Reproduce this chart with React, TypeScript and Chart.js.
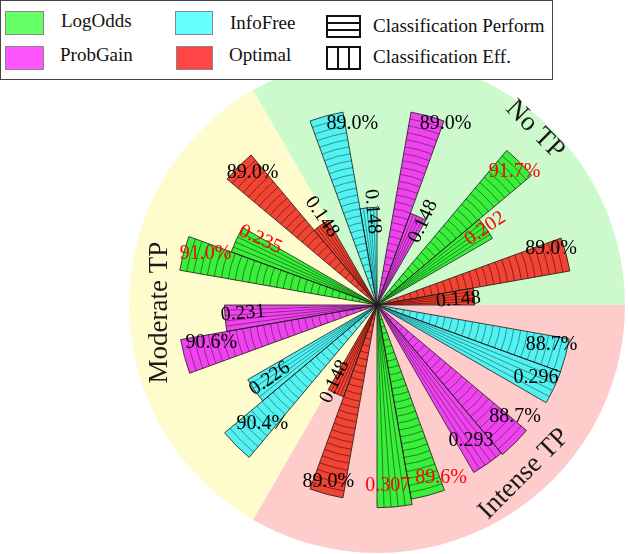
import React, { useEffect, useRef } from "react";
import { Chart, registerables } from "chart.js";

Chart.register(...registerables);

// ---------- data ----------
const groups = ["No TP", "Intense TP", "Moderate TP"];
const methods = ["InfoFree", "ProbGain", "LogOdds", "Optimal"];
// Classification performance (%), in the order of `methods`
const perfNoTP = [89.0, 89.0, 91.7, 89.0];
const perfIntense = [88.7, 88.7, 89.6, 89.0];
const perfModerate = [90.4, 90.6, 91.0, 89.0];
// Classification efficiency, in the order of `methods`
const effNoTP = [0.148, 0.148, 0.202, 0.148];
const effIntense = [0.296, 0.293, 0.307, 0.148];
const effModerate = [0.226, 0.231, 0.235, 0.148];

const perfGroups = [perfNoTP, perfIntense, perfModerate];
const effGroups = [effNoTP, effIntense, effModerate];

// ---------- scale conventions ----------
const PERF_DIV = 100; // performance plotted as a fraction
const EFF_MUL = 3; // efficiency plotted x3 to share the radial axis
const R_MAX = 1.127;
const SLOT_DEG = 10;
const START_DEG = -30;

// ---------- label nudges (px, relative to each bar's tip) ----------
// per group, per method: [perfDx, perfDy, effDx, effDy]
const labelNudgeNoTP = [[26, 8, 4, 4], [18, 8, 5, 5], [-5, 9, -1, 0], [-15, -6, -16, 3]];
const labelNudgeIntense = [[-14, -11, -18, -10], [0, -26, -17, -23], [13, -18, -7, -21], [2, -12, -1, -12]];
const labelNudgeModerate = [[26, -22, 15, -12], [27, -14, 18, -5], [22, 1, 24, 0], [14, 6, 1, -8]];
const labelNudges = [labelNudgeNoTP, labelNudgeIntense, labelNudgeModerate];

type Slot = { kind: "gap" | "perf" | "eff"; g: number; m: number; value: number; r: number };
const slots: Slot[] = [];
groups.forEach((_, g) => {
  methods.forEach((_, m) => {
    slots.push({ kind: "gap", g, m, value: 0, r: 0 });
    slots.push({ kind: "perf", g, m, value: perfGroups[g][m], r: perfGroups[g][m] / PERF_DIV });
    slots.push({ kind: "eff", g, m, value: effGroups[g][m], r: effGroups[g][m] * EFF_MUL });
  });
});

// ---------- styles ----------
const fillColors: Record<string, string> = {
  InfoFree: "#55f0f0",
  ProbGain: "#ee44ee",
  LogOdds: "#3cee3c",
  Optimal: "#f04535",
};
const hatchColors: Record<string, string> = {
  InfoFree: "#239a9a",
  ProbGain: "#972597",
  LogOdds: "#188a18",
  Optimal: "#921e14",
};
const legendColors: Record<string, string> = {
  LogOdds: "#66ff66",
  ProbGain: "#ff55ff",
  InfoFree: "#66ffff",
  Optimal: "#ff4646",
};
const sectorColors = ["#ccfacc", "#ffcccc", "#fefbcc"];
const groupLabelStyle = [
  { angle: 42, dist: 236, rot: 45 },
  { angle: 139, dist: 224, rot: -45 },
  { angle: 268, dist: 217, rot: -90 },
];
const SERIF = "'Liberation Serif', 'Times New Roman', serif";

const overlayPlugin = {
  id: "overlay",
  afterDatasetsDraw(chart: any) {
    const ctx: CanvasRenderingContext2D = chart.ctx;
    const meta = chart.getDatasetMeta(0);
    const els: any[] = meta.data;
    // hatching + borders
    els.forEach((el, i) => {
      const s = slots[i];
      if (s.kind === "gap") return;
      const { x, y, startAngle, endAngle, outerRadius } = el.getProps(
        ["x", "y", "startAngle", "endAngle", "outerRadius"],
        true
      );
      ctx.save();
      ctx.beginPath();
      ctx.moveTo(x, y);
      ctx.arc(x, y, outerRadius, startAngle, endAngle);
      ctx.closePath();
      ctx.clip();
      ctx.strokeStyle = hatchColors[methods[s.m]];
      ctx.lineWidth = 1;
      if (s.kind === "perf") {
        for (let r = outerRadius - 7; r > 3; r -= 7) {
          ctx.beginPath();
          ctx.arc(x, y, r, startAngle - 0.05, endAngle + 0.05);
          ctx.stroke();
        }
      } else {
        const n = 5;
        for (let k = 1; k < n; k++) {
          const a = startAngle + ((endAngle - startAngle) * k) / n;
          ctx.beginPath();
          ctx.moveTo(x, y);
          ctx.lineTo(x + Math.cos(a) * outerRadius, y + Math.sin(a) * outerRadius);
          ctx.stroke();
        }
      }
      ctx.restore();
      ctx.save();
      ctx.beginPath();
      ctx.moveTo(x, y);
      ctx.arc(x, y, outerRadius, startAngle, endAngle);
      ctx.closePath();
      ctx.strokeStyle = "#1a1a1a";
      ctx.lineWidth = 0.8;
      ctx.lineJoin = "miter";
      ctx.stroke();
      ctx.restore();
    });
    // value labels
    els.forEach((el, i) => {
      const s = slots[i];
      if (s.kind === "gap") return;
      const { x, y, startAngle, endAngle, outerRadius } = el.getProps(
        ["x", "y", "startAngle", "endAngle", "outerRadius"],
        true
      );
      const mid = (startAngle + endAngle) / 2;
      const nudge = labelNudges[s.g][s.m];
      const dx = s.kind === "perf" ? nudge[0] : nudge[2];
      const dy = s.kind === "perf" ? nudge[1] : nudge[3];
      const lx = x + Math.cos(mid) * outerRadius + dx;
      const ly = y + Math.sin(mid) * outerRadius + dy;
      const arr = s.kind === "perf" ? perfGroups[s.g] : effGroups[s.g];
      const isMax = s.value === Math.max(...arr);
      const text = s.kind === "perf" ? s.value.toFixed(1) + "%" : s.value.toFixed(3);
      let rot = 0;
      if (s.kind === "eff" && s.value < 0.25) {
        rot = Math.atan2(Math.sin(mid), Math.cos(mid));
        if (rot > Math.PI / 2) rot -= Math.PI;
        if (rot < -Math.PI / 2) rot += Math.PI;
      }
      ctx.save();
      ctx.translate(lx, ly);
      ctx.rotate(rot);
      ctx.font = `20px ${SERIF}`;
      ctx.textAlign = "center";
      ctx.textBaseline = "middle";
      ctx.fillStyle = isMax ? "#ff0000" : "#000000";
      ctx.fillText(text, 0, 0);
      ctx.restore();
    });
    // group labels
    const scale = chart.scales.r;
    groups.forEach((name, g) => {
      const st = groupLabelStyle[g];
      const a = ((st.angle - 90) * Math.PI) / 180;
      const gx = scale.xCenter + Math.cos(a) * st.dist;
      const gy = scale.yCenter + Math.sin(a) * st.dist;
      ctx.save();
      ctx.translate(gx, gy);
      ctx.rotate((st.rot * Math.PI) / 180);
      ctx.font = `27px ${SERIF}`;
      ctx.textAlign = "center";
      ctx.textBaseline = "middle";
      ctx.fillStyle = "#1a1a1a";
      ctx.fillText(name, 0, 0);
      ctx.restore();
    });
  },
};

const legendItems = [
  { name: "LogOdds", left: 5, top: 11, w: 39, h: 24, tx: 61, ty: 21 },
  { name: "ProbGain", left: 5, top: 46, w: 39, h: 24, tx: 60, ty: 55 },
  { name: "InfoFree", left: 175, top: 11, w: 38, h: 24, tx: 230, ty: 23 },
  { name: "Optimal", left: 176, top: 46, w: 37, h: 24, tx: 229, ty: 55 },
];

export default function App() {
  const ref = useRef<HTMLCanvasElement>(null);
  useEffect(() => {
    const chart = new Chart(ref.current as HTMLCanvasElement, {
      type: "polarArea",
      data: {
        labels: slots.map((_, i) => String(i)),
        datasets: [
          {
            data: slots.map((s) => s.r),
            backgroundColor: slots.map((s) => (s.kind === "gap" ? "rgba(0,0,0,0)" : fillColors[methods[s.m]])),
            borderWidth: 0,
            angle: SLOT_DEG,
            order: 1,
          } as any,
          {
            data: groups.map(() => R_MAX),
            backgroundColor: sectorColors,
            borderWidth: 0,
            angle: 120,
            order: 2,
          } as any,
        ],
      },
      options: {
        responsive: false,
        animation: false,
        layout: { padding: { left: 129, right: 3, top: 57, bottom: 1 } },
        scales: {
          r: {
            min: 0,
            max: R_MAX,
            startAngle: START_DEG,
            ticks: { display: false },
            grid: { display: false },
            angleLines: { display: false },
            pointLabels: { display: false },
          },
        },
        plugins: { legend: { display: false }, tooltip: { enabled: false } },
      } as any,
      plugins: [overlayPlugin],
    });
    return () => chart.destroy();
  }, []);

  const txt: React.CSSProperties = {
    position: "absolute",
    fontFamily: SERIF,
    fontSize: 19,
    lineHeight: "22px",
    color: "#111",
    whiteSpace: "nowrap",
  };
  return (
    <div style={{ position: "absolute", left: 0, top: 0, width: 628, height: 554, background: "#fff" }}>
      <canvas ref={ref} width={628} height={554} style={{ position: "absolute", left: 0, top: 0 }} />
      <div
        style={{
          position: "absolute",
          left: 0,
          top: 0,
          width: 553,
          height: 80,
          border: "1px solid #444",
          background: "#fff",
          boxSizing: "border-box",
        }}
      />
      {legendItems.map((it) => (
        <React.Fragment key={it.name}>
          <div
            style={{
              position: "absolute",
              left: it.left,
              top: it.top,
              width: it.w,
              height: it.h,
              background: legendColors[it.name],
              border: "1px solid #888",
              boxSizing: "border-box",
            }}
          />
          <span style={{ ...txt, left: it.tx, top: it.ty - 11 }}>{it.name}</span>
        </React.Fragment>
      ))}
      <div
        style={{
          position: "absolute",
          left: 326,
          top: 15,
          width: 35,
          height: 23,
          border: "2px solid #111",
          boxSizing: "border-box",
          background: "linear-gradient(#fff 0 5px, #111 5px 7px, #fff 7px 12px, #111 12px 14px, #fff 14px)",
        }}
      />
      <span style={{ ...txt, left: 373, top: 26 - 11 }}>Classification Perform</span>
      <div
        style={{
          position: "absolute",
          left: 326,
          top: 46,
          width: 35,
          height: 24,
          border: "2px solid #111",
          boxSizing: "border-box",
          background:
            "linear-gradient(90deg, #fff 0 9px, #111 9px 11px, #fff 11px 20px, #111 20px 22px, #fff 22px)",
        }}
      />
      <span style={{ ...txt, left: 373, top: 57 - 11 }}>Classification Eff.</span>
    </div>
  );
}
